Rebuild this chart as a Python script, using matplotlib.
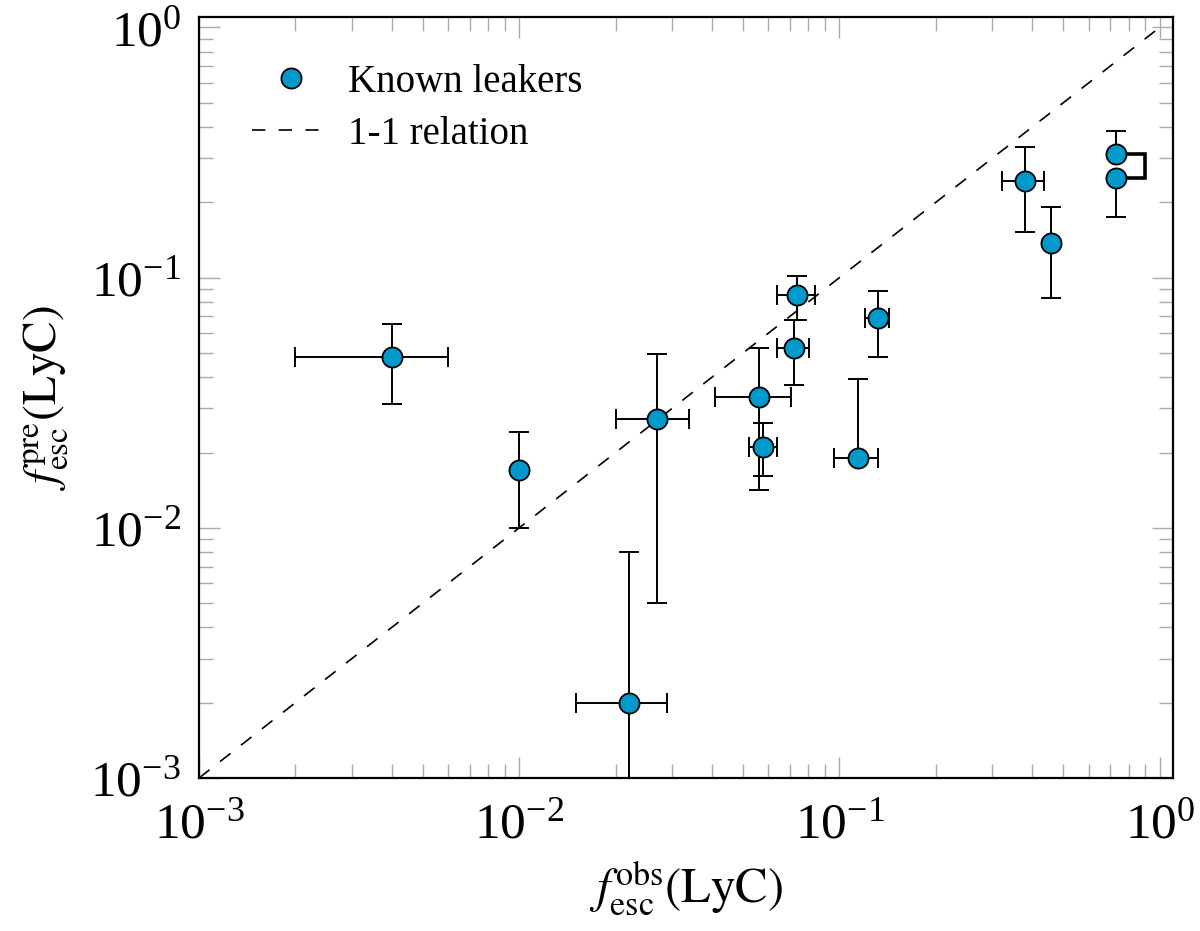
import numpy as np
import matplotlib
matplotlib.use("Agg")
import matplotlib.pyplot as plt
from matplotlib.lines import Line2D

# --- fonts: Times-like serif with STIX math ---
plt.rcParams['font.family'] = ['Liberation Serif', 'DejaVu Serif']
plt.rcParams['mathtext.fontset'] = 'stix'

x_obs = [0.0040, 0.0100, 0.0270, 0.0220, 0.0736, 0.0719, 0.0559,
         0.0577, 0.1141, 0.1317, 0.3795, 0.4586, 0.7278, 0.7278]
x_lo = [0.0020, 0.0100, 0.0200, 0.0150, 0.0639, 0.0639, 0.0409,
        0.0520, 0.0958, 0.1205, 0.3218, 0.4586, 0.7278, 0.7278]
x_hi = [0.0060, 0.0100, 0.0339, 0.0290, 0.0841, 0.0801, 0.0708,
        0.0639, 0.1317, 0.1432, 0.4360, 0.4586, 0.7278, 0.7278]
y_pre = [0.0483, 0.0170, 0.0272, 0.0020, 0.0852, 0.0525, 0.0334,
         0.0211, 0.0191, 0.0688, 0.2432, 0.1372, 0.3110, 0.2508]
y_lo = [0.0312, 0.0100, 0.0050, 1e-5, 0.0677, 0.0372, 0.0141,
        0.0161, 0.0191, 0.0483, 0.1526, 0.0827, 0.3110, 0.1742]
y_hi = [0.0655, 0.0241, 0.0495, 0.0080, 0.1018, 0.0677, 0.0522,
        0.0262, 0.0392, 0.0887, 0.3327, 0.1915, 0.3866, 0.2508]

one_to_one = [1e-3, 1.0]
bracket_x = 0.90  # right edge of the bracket joining the last two points

fig = plt.figure(figsize=(12, 9.31), dpi=100)
ax = fig.add_axes([0.1658, 0.1643, 0.8117, 0.8174])

col = '#0099cc'
dash = (8, 8)
eb = dict(fmt='none', ecolor='k', elinewidth=1.4, capsize=7, capthick=1.4, zorder=2)

# error bars, one point at a time so empty sides get no caps
for i in range(len(x_obs)):
    xl, xh = x_obs[i] - x_lo[i], x_hi[i] - x_obs[i]
    yl, yh = y_pre[i] - y_lo[i], y_hi[i] - y_pre[i]
    if xl > 0 or xh > 0:
        ax.errorbar(x_obs[i], y_pre[i], xerr=[[xl], [xh]], **eb)
    if yl > 0:
        ax.errorbar(x_obs[i], y_pre[i], yerr=[[yl], [0]], **eb)
    if yh > 0:
        ax.errorbar(x_obs[i], y_pre[i], yerr=[[0], [yh]], **eb)

# bracket joining the two rightmost points
ax.plot([x_obs[-2], bracket_x, bracket_x, x_obs[-1]],
        [y_pre[-2], y_pre[-2], y_pre[-1], y_pre[-1]],
        color='k', lw=2.6, solid_joinstyle='miter', zorder=2)

ax.plot(x_obs, y_pre, 'o', ms=14.5, mfc=col, mec='k', mew=1.3,
        ls='none', zorder=3)

ax.plot(one_to_one, one_to_one, color='k', lw=1.2, dashes=dash, zorder=1)

ax.set_xscale('log')
ax.set_yscale('log')
ax.set_xlim(1e-3, 1.1)
ax.set_ylim(1e-3, 1.1)
ax.set_xticks([1e-3, 1e-2, 1e-1, 1e0])
ax.set_yticks([1e-3, 1e-2, 1e-1, 1e0])

for s in ax.spines.values():
    s.set_linewidth(1.6)

ax.tick_params(which='both', direction='in', top=True, right=True,
               color='#aaaaaa', width=1.0, labelsize=37)
ax.tick_params(which='major', length=15)
ax.tick_params(which='minor', length=10)
ax.tick_params(axis='x', which='major', pad=17)
ax.tick_params(axis='y', which='major', pad=13)

ax.set_xlabel(r'$f_{\mathrm{esc}}^{\mathrm{obs}}(\mathrm{LyC})$', fontsize=35, labelpad=8)
ax.set_ylabel(r'$f_{\mathrm{esc}}^{\mathrm{pre}}(\mathrm{LyC})$', fontsize=34, labelpad=14)

handles = [
    Line2D([], [], marker='o', ls='none', ms=14.5, mfc=col, mec='k', mew=1.3),
    Line2D([], [], color='k', lw=1.2, dashes=dash),
]
ax.legend(handles, ['Known leakers', '1-1 relation'], loc='upper left',
          frameon=False, fontsize=28, handlelength=2.0, handletextpad=0.45,
          borderaxespad=0.6, labelspacing=0.4, bbox_to_anchor=(0.015, 0.99))

fig.savefig('out.png', dpi=100)
